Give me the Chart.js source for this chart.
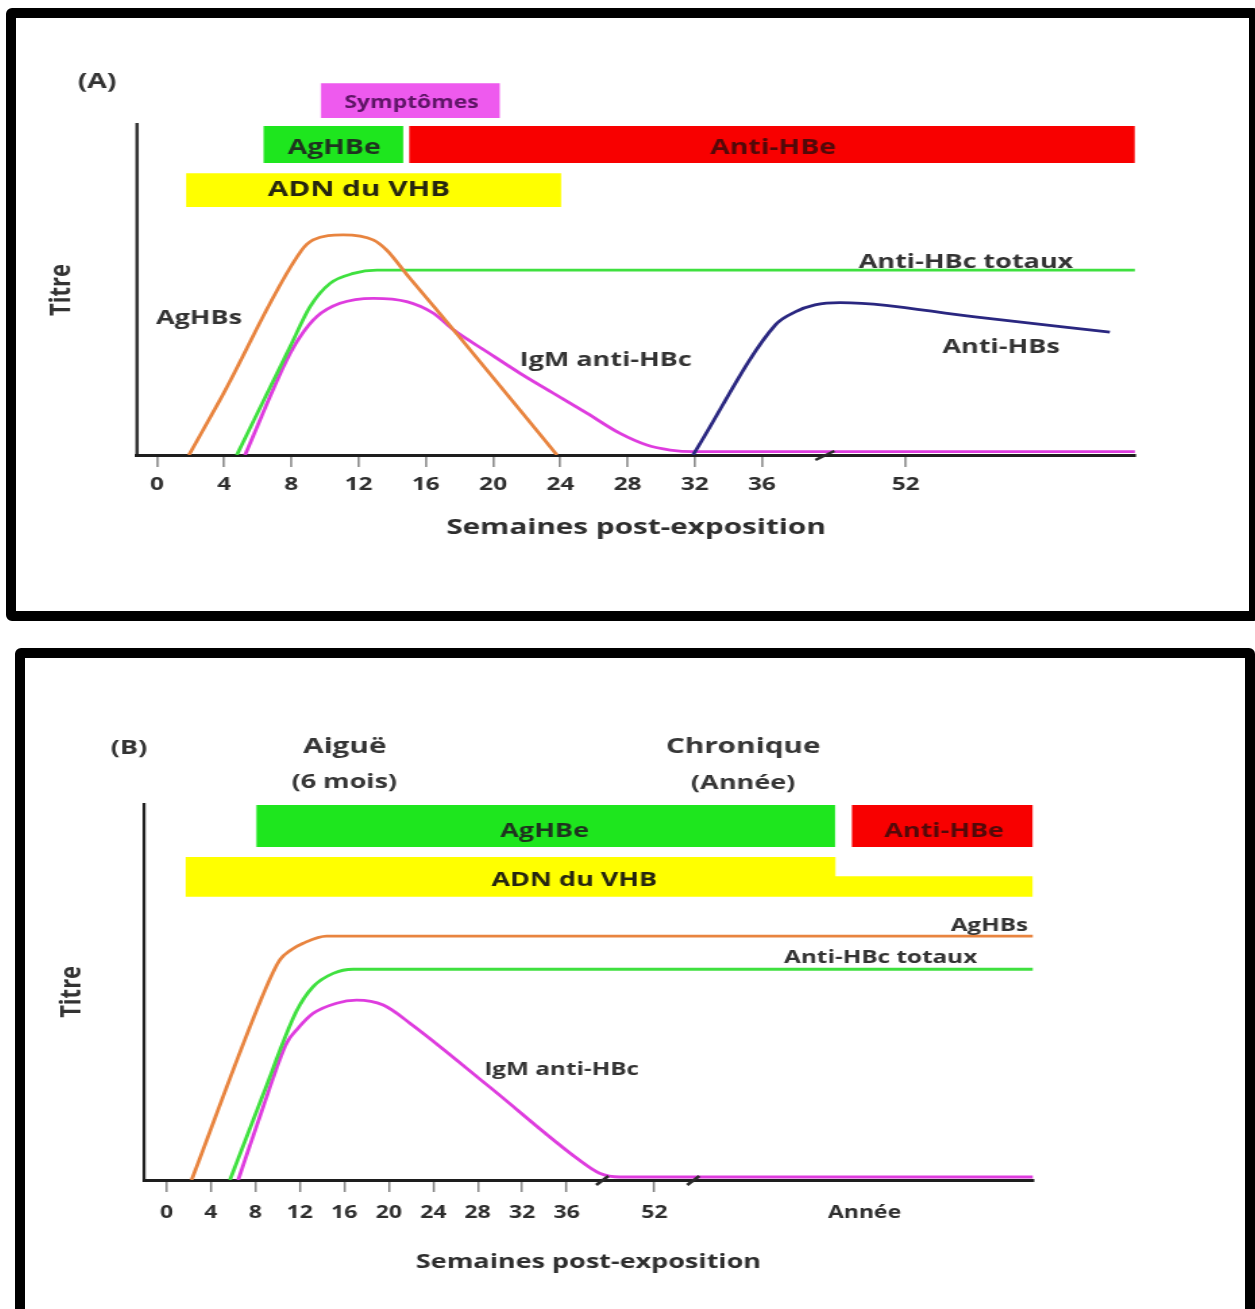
<!DOCTYPE html>
<html lang="fr">
<head>
<meta charset="utf-8">
<title>Marqueurs sérologiques du VHB</title>
<script src="https://cdn.jsdelivr.net/npm/chart.js@4.4.1/dist/chart.umd.min.js"></script>
<style>
  html, body { margin: 0; padding: 0; background: #fff; overflow: hidden; }
  body { width: 1255px; height: 1309px; position: relative; }
  .frame { position: absolute; box-sizing: border-box; border: 10px solid #000; border-radius: 6px; }
  #frameA { left: 6px; top: 8px; width: 1253px; height: 613px; }
  #frameB { left: 15px; top: 648px; width: 1240px; height: 700px; }
  canvas { position: absolute; transform-origin: 0 0; }
</style>
</head>
<body>
<div class="frame" id="frameA"></div>
<div class="frame" id="frameB"></div>
<canvas id="chartA"></canvas>
<canvas id="chartB"></canvas>
<script>
// the original figure is stretched sideways, so the canvases are too
var SX = 1.35;
var FONT = '"Open Sans", sans-serif';

// ---- (A) weeks after exposure / titre (0-100 = height of the y axis)
var tickWeeksA = [0, 4, 8, 12, 16, 20, 24, 28, 32, 36, 52];
var tickLabelsA = ['0', '4', '8', '12', '16', '20', '24', '28', '32', '36', '52'];

var agHBsWeeksA = [1.9, 3.75, 8.61, 9.29, 11.07, 12.86, 13.67, 14.86, 18.04, 23.8];
var agHBsA = [0, 16.6, 61.7, 64.8, 66.3, 64.8, 61.7, 54.4, 35.3, 0];
var antiHBcWeeksA = [4.75, 7.92, 9.11, 10.3, 11.69, 13.08, 77.5];
var antiHBcA = [0, 32.6, 44.7, 51.7, 54.7, 55.7, 55.7];
var igmWeeksA = [5.24, 7.72, 8.51, 9.51, 10.89, 12.88, 14.86, 16.45, 17.64, 19.63, 21.61, 23.59, 25.58, 27.56, 29.15, 30.54, 31.92, 77.5];
var igmA = [0, 28.6, 35.6, 41.7, 45.7, 47.2, 46.2, 42.7, 37.7, 31.1, 24.6, 18.6, 12.6, 6.5, 3.0, 1.5, 1.0, 1.0];
var antiHBsWeeksA = [31.9, 37.5, 39.7, 41.9, 44.7, 59.7, 74.7];
var antiHBsA = [0, 39.2, 43.1, 45.2, 45.9, 41.6, 37.0];

var markerLabelsA = ['Symptômes', 'AgHBe', 'Anti-HBe', 'ADN du VHB'];
var markerStartA = [9.73, 6.33, 15.0, 1.71];
var markerEndA = [20.42, 14.66, 77.5, 24.06];

// ---- (B)
var tickWeeksB = [0, 4, 8, 12, 16, 20, 24, 28, 32, 36, 52, 104];
var tickLabelsB = ['0', '4', '8', '12', '16', '20', '24', '28', '32', '36', '52', 'Année'];

var agHBsWeeksB = [2.26, 9.0, 10.2, 11.2, 12.3, 14.4, 145.7];
var agHBsB = [0, 51.3, 58.4, 61.0, 62.8, 64.7, 64.7];
var antiHBcWeeksB = [5.71, 8.67, 11.7, 13.2, 15.0, 16.8, 145.7];
var antiHBcB = [0, 22.5, 44.8, 51.3, 54.8, 55.9, 55.9];
var igmWeeksB = [6.45, 8.7, 10.8, 11.7, 13.2, 15.3, 17.1, 19.5, 21.9, 29.06, 38.3, 42.0, 45.7, 145.7];
var igmB = [0, 19.4, 36.3, 39.8, 44.2, 46.9, 47.7, 46.4, 41.6, 24.7, 5.3, 1.8, 0.8, 0.8];

var markerLabelsB = ['AgHBe', 'Anti-HBe', 'ADN du VHB'];
var markerStartB = [8.07, 100.8, 1.73];
var markerEndB = [96.8, 145.7, 145.7];
var markerStepB = [null, null, 96.8];   // ADN band gets thinner after this week

// colours
var C = {
  agHBs: '#e8843f', antiHBc: '#3fe03f', igm: '#de3cde', antiHBs: '#2a2780',
  'Symptômes': '#ee5aee', 'AgHBe': '#1ee61e', 'Anti-HBe': '#f80000', 'ADN du VHB': '#ffff00'
};

// broken x axis: weeks -> axis units
function makeBreak(anchors) {
  return function (w) {
    var prev = [0, 0];
    for (var i = 0; i < anchors.length; i++) {
      var a = anchors[i];
      if (w <= a[0]) return prev[1] + (w - prev[0]) * (a[1] - prev[1]) / (a[0] - prev[0]);
      prev = a;
    }
    var a1 = anchors[anchors.length - 2], a2 = anchors[anchors.length - 1];
    return a2[1] + (w - a2[0]) * (a2[1] - a1[1]) / (a2[0] - a1[0]);
  };
}

function curve(weeks, values, color, toPos) {
  return {
    data: weeks.map(function (w, i) { return {x: toPos(w), y: values[i]}; }),
    borderColor: color, borderWidth: 2.8, pointRadius: 0,
    cubicInterpolationMode: 'monotone', fill: false
  };
}

function band(start, end, row, color, toPos, stepAt, stepTop) {
  var pts = [{x: toPos(start), y: row[1]}];
  if (stepAt != null) {
    pts.push({x: toPos(stepAt), y: row[1]});
    pts.push({x: toPos(stepAt), y: stepTop});
    pts.push({x: toPos(end), y: stepTop});
  } else {
    pts.push({x: toPos(end), y: row[1]});
  }
  return {
    data: pts, backgroundColor: color, borderColor: 'rgba(0,0,0,0)', borderWidth: 0,
    pointRadius: 0, fill: {value: row[0]}
  };
}

function schemaPlugin(p) {
  return {
    id: 'schema',
    beforeDatasetsDraw: function (chart) {
      var ctx = chart.ctx, y = chart.scales.y, left = chart.chartArea.left;
      ctx.save();
      ctx.strokeStyle = '#1e1e1e';
      ctx.lineWidth = 3 / SX;
      ctx.beginPath();
      ctx.moveTo(left, y.getPixelForValue(0) + 1.5);
      ctx.lineTo(left, y.getPixelForValue(100));
      ctx.stroke();
      ctx.restore();
    },
    afterDatasetsDraw: function (chart) {
      var ctx = chart.ctx, x = chart.scales.x, y = chart.scales.y;
      ctx.save();
      ctx.strokeStyle = '#2a2a2a';
      ctx.lineWidth = 2.5;
      p.breaks.forEach(function (w) {
        var px = x.getPixelForValue(p.toPos(w)), py = y.getPixelForValue(0);
        ctx.beginPath();
        ctx.moveTo(px - p.breakSize, py + 5);
        ctx.lineTo(px + p.breakSize, py - 4);
        ctx.stroke();
      });
      ctx.textAlign = 'center';
      ctx.textBaseline = 'middle';
      p.texts.forEach(function (t) {
        var px = x.getPixelForValue(p.toPos(t.w)), py = y.getPixelForValue(t.v);
        ctx.font = 'bold ' + t.size + 'px ' + FONT;
        ctx.fillStyle = t.color || '#333';
        ctx.save();
        ctx.translate(px, py);
        if (t.rotate) ctx.rotate(-Math.PI / 2);
        ctx.fillText(t.text, 0, 0);
        ctx.restore();
      });
      ctx.restore();
    }
  };
}

function drawPanel(id, p) {
  var L = p.layout;
  var canvas = document.getElementById(id);
  var canvasW = Math.round(L.width / SX);
  var titleBottom = L.titleY + p.titleSize * 0.6;
  canvas.width = canvasW;
  canvas.height = L.height;
  canvas.style.left = L.left + 'px';
  canvas.style.top = L.top + 'px';
  canvas.style.transform = 'scaleX(' + SX + ')';

  var datasets = p.curves.map(function (c) { return curve(c[0], c[1], c[2], p.toPos); });
  p.markers.forEach(function (label, i) {
    datasets.push(band(p.start[i], p.end[i], p.rows[label], C[label], p.toPos,
      p.step ? p.step[i] : null, p.stepTop));
  });

  return new Chart(canvas, {
    type: 'line',
    data: {datasets: datasets},
    options: {
      responsive: false,
      animation: false,
      devicePixelRatio: 1,
      events: [],
      layout: {
        padding: {
          left: (L.area.left - L.left) / SX,
          right: canvasW - (L.area.right - L.left) / SX,
          top: L.area.top - L.top,
          bottom: L.top + L.height - titleBottom
        }
      },
      plugins: {legend: {display: false}, tooltip: {enabled: false}},
      scales: {
        x: {
          type: 'linear',
          min: p.xMin,
          max: p.toPos(p.xEnd),
          afterBuildTicks: function (s) {
            s.ticks = p.tickWeeks.map(function (w) { return {value: p.toPos(w)}; });
          },
          afterFit: function (s) { s.height = titleBottom - L.area.bottom; },
          border: {display: true, color: '#1e1e1e', width: 3},
          grid: {
            display: true, drawOnChartArea: false, drawTicks: true, tickLength: 12, lineWidth: 1.6,
            tickColor: function (c) {
              return p.tickLabels[c.index] === 'Année' ? 'rgba(0,0,0,0)' : '#8c8c8c';
            }
          },
          ticks: {
            autoSkip: false, maxRotation: 0, padding: p.tickPad, color: '#2e2e2e',
            font: {family: FONT, size: p.tickSize, weight: 'bold'},
            callback: function (v, i) { return p.tickLabels[i]; }
          },
          title: {
            display: true, text: 'Semaines post-exposition', color: '#2e2e2e', padding: 0,
            font: {family: FONT, size: p.titleSize, weight: 'bold'}
          }
        },
        y: {type: 'linear', min: 0, max: p.yMax, display: false}
      }
    },
    plugins: [schemaPlugin(p)]
  });
}

drawPanel('chartA', {
  layout: {left: 16, top: 18, width: 1232, height: 592,
    area: {left: 137, right: 1135, top: 83, bottom: 455}, titleY: 528},
  toPos: makeBreak([[36, 36], [52, 44.56]]),
  xMin: -1.19, xEnd: 77.5, yMax: 112.05,
  tickWeeks: tickWeeksA, tickLabels: tickLabelsA, tickSize: 18, tickPad: 7, titleSize: 22,
  curves: [
    [antiHBsWeeksA, antiHBsA, C.antiHBs],
    [agHBsWeeksA, agHBsA, C.agHBs],
    [antiHBcWeeksA, antiHBcA, C.antiHBc],
    [igmWeeksA, igmA, C.igm]
  ],
  markers: markerLabelsA, start: markerStartA, end: markerEndA,
  rows: {'Symptômes': [101.5, 112], 'AgHBe': [87.95, 99.1], 'Anti-HBe': [87.95, 99.1], 'ADN du VHB': [74.7, 84.9]},
  breaks: [43.0], breakSize: 7,
  texts: [
    {text: '(A)', w: -3.57, v: 112.4, size: 21},
    {text: 'Titre', w: -5.71, v: 49.7, size: 22, rotate: true},
    {text: 'AgHBs', w: 2.5, v: 41.3, size: 20},
    {text: 'Anti-HBc totaux', w: 58.7, v: 58.1, size: 20},
    {text: 'IgM anti-HBc', w: 26.7, v: 28.6, size: 20},
    {text: 'Anti-HBs', w: 62.6, v: 32.3, size: 20},
    {text: 'Symptômes', w: 15.15, v: 106, size: 17, color: '#5e1566'},
    {text: 'AgHBe', w: 10.54, v: 92.4, size: 21, color: '#1f331f'},
    {text: 'Anti-HBe', w: 37.25, v: 92.4, size: 21, color: '#520909'},
    {text: 'ADN du VHB', w: 12.02, v: 79.8, size: 22, color: '#262610'}
  ]
});

drawPanel('chartB', {
  layout: {left: 25, top: 658, width: 1220, height: 651,
    area: {left: 144, right: 1033, top: 803, bottom: 1180}, titleY: 1262},
  toPos: makeBreak([[36, 36], [52, 43.9], [104, 62.8]]),
  xMin: -2.02, xEnd: 145.7, yMax: 100,
  tickWeeks: tickWeeksB, tickLabels: tickLabelsB, tickSize: 17, tickPad: 10.8, titleSize: 20,
  curves: [
    [agHBsWeeksB, agHBsB, C.agHBs],
    [antiHBcWeeksB, antiHBcB, C.antiHBc],
    [igmWeeksB, igmB, C.igm]
  ],
  markers: markerLabelsB, start: markerStartB, end: markerEndB, step: markerStepB, stepTop: 80.6,
  rows: {'AgHBe': [88.3, 99.5], 'Anti-HBe': [88.3, 99.5], 'ADN du VHB': [75.1, 85.7]},
  breaks: [42.5, 61.6], breakSize: 4.5,
  texts: [
    {text: '(B)', w: -3.37, v: 114.6, size: 20},
    {text: 'Aiguë', w: 16.04, v: 115.0, size: 22, color: '#363636'},
    {text: '(6 mois)', w: 16.0, v: 105.4, size: 20, color: '#363636'},
    {text: 'Chronique', w: 73.96, v: 115.0, size: 22, color: '#363636'},
    {text: '(Année)', w: 73.96, v: 105.3, size: 20, color: '#363636'},
    {text: 'Titre', w: -8.54, v: 49.9, size: 22, rotate: true},
    {text: 'AgHBe', w: 34.02, v: 92.4, size: 20, color: '#1f331f'},
    {text: 'Anti-HBe', w: 123.7, v: 92.4, size: 20, color: '#520909'},
    {text: 'ADN du VHB', w: 37.38, v: 79.6, size: 20, color: '#262610'},
    {text: 'AgHBs', w: 134.9, v: 67.4, size: 18},
    {text: 'Anti-HBc totaux', w: 108.0, v: 58.8, size: 18},
    {text: 'IgM anti-HBc', w: 35.55, v: 29.2, size: 18}
  ]
});
</script>
</body>
</html>
